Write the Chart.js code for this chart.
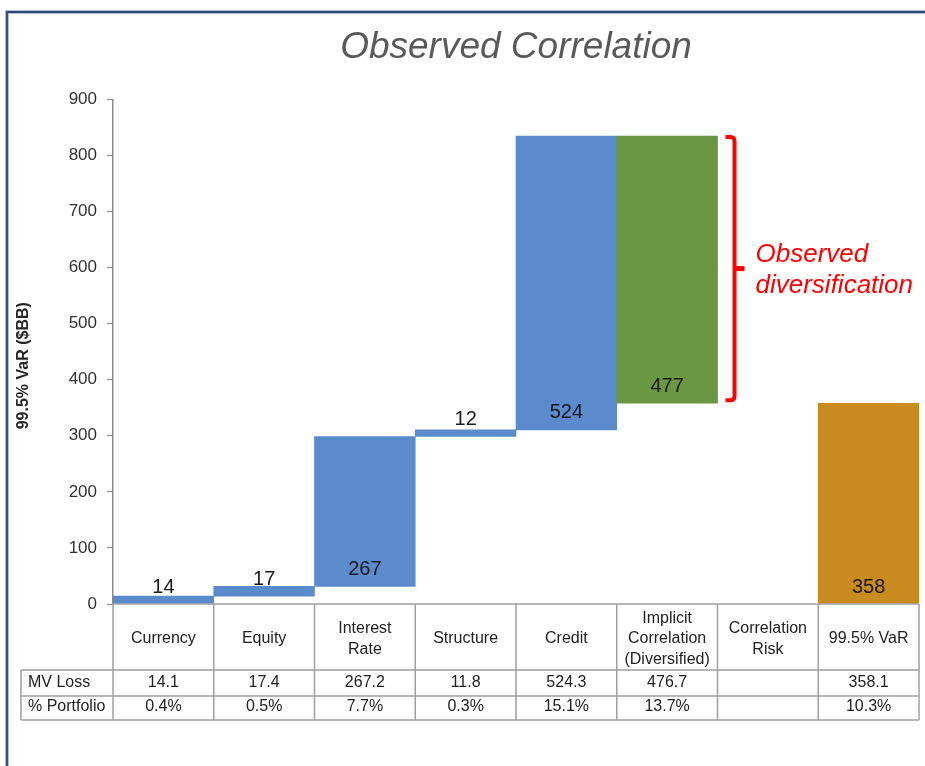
<!DOCTYPE html>
<html>
<head>
<meta charset="utf-8">
<script src="https://cdn.jsdelivr.net/npm/chart.js@4/dist/chart.umd.min.js"></script>
<style>
html,body{margin:0;padding:0;background:#fff;}
canvas{display:block;}
</style>
</head>
<body>
<canvas id="c" width="925" height="766"></canvas>
<script>
// ---- data ----
const categories = [['Currency'], ['Equity'], ['Interest', 'Rate'], ['Structure'], ['Credit'],
  ['Implicit', 'Correlation', '(Diversified)'], ['Correlation', 'Risk'], ['99.5% VaR']];
const mvLoss = [14.1, 17.4, 267.2, 11.8, 524.3, 476.7, null, 358.1];
const stepKind = ['up', 'up', 'up', 'up', 'up', 'down', 'none', 'total'];
const barLabels = ['14', '17', '267', '12', '524', '477', '', '358'];
const mvLossText = ['14.1', '17.4', '267.2', '11.8', '524.3', '476.7', '', '358.1'];
const pctPortfolio = ['0.4%', '0.5%', '7.7%', '0.3%', '15.1%', '13.7%', '', '10.3%'];
const rowHeaders = ['MV Loss', '% Portfolio'];
const yTicks = [0, 100, 200, 300, 400, 500, 600, 700, 800, 900];
const yTitle = '99.5% VaR ($BB)';
const chartTitle = 'Observed Correlation';
const noteLines = ['Observed', 'diversification'];

// ---- waterfall table built from the values ----
let running = 0;
const floating = mvLoss.map((v, i) => {
  const k = stepKind[i];
  if (k === 'up') { const s = running; running += v; return [s, running]; }
  if (k === 'down') { const s = running; running -= v; return [running, s]; }
  if (k === 'total') { return [0, v]; }
  return null;
});
const kindColor = { up: '#5b8bcc', down: '#6a9842', total: '#c98b20', none: 'rgba(0,0,0,0)' };
const barColors = stepKind.map(k => kindColor[k]);

const FONT = "'Liberation Sans', Arial, sans-serif";

const decor = {
  id: 'decor',
  afterDatasetsDraw(chart) {
    const ctx = chart.ctx;
    const xs = chart.scales.x, ys = chart.scales.y;
    const ca = chart.chartArea;
    const n = categories.length;
    const w = (ca.right - ca.left) / n;
    const edge = i => ca.left + i * w;

    // bar value labels, just above each bar's base
    ctx.save();
    ctx.font = '20px ' + FONT;
    ctx.fillStyle = '#1a1a1a';
    ctx.textAlign = 'center';
    ctx.textBaseline = 'middle';
    floating.forEach((d, i) => {
      if (!d || !barLabels[i]) return;
      const base = ys.getPixelForValue(Math.min(d[0], d[1]));
      ctx.fillText(barLabels[i], xs.getPixelForValue(i), base - 17);
    });
    ctx.restore();

    // table
    const b = ca.bottom;
    const r1 = b + 66, r2 = b + 92, r3 = b + 116;
    const tLeft = 21;
    ctx.save();
    ctx.strokeStyle = '#a0a0a0';
    ctx.lineWidth = 1.5;
    ctx.beginPath();
    for (let i = 0; i <= n; i++) {
      ctx.moveTo(edge(i), b); ctx.lineTo(edge(i), r3);
    }
    ctx.moveTo(tLeft, r1); ctx.lineTo(tLeft, r3);
    ctx.moveTo(ca.left, b); ctx.lineTo(ca.right, b);
    [r1, r2, r3].forEach(y => { ctx.moveTo(tLeft, y); ctx.lineTo(ca.right, y); });
    ctx.stroke();

    ctx.fillStyle = '#222';
    ctx.font = '16px ' + FONT;
    ctx.textBaseline = 'middle';
    ctx.textAlign = 'center';
    const hc = b + 35;
    categories.forEach((lines, i) => {
      const cx = xs.getPixelForValue(i);
      lines.forEach((t, k) => {
        ctx.fillText(t, cx, hc + (k - (lines.length - 1) / 2) * 20.5);
      });
      ctx.fillText(mvLossText[i], cx, b + 79);
      ctx.fillText(pctPortfolio[i], cx, b + 103);
    });
    ctx.textAlign = 'left';
    ctx.fillText(rowHeaders[0], tLeft + 7, b + 79);
    ctx.fillText(rowHeaders[1], tLeft + 7, b + 103);
    ctx.restore();

    // y axis title
    ctx.save();
    ctx.translate(24, (ca.top + ca.bottom) / 2 + 14);
    ctx.rotate(-Math.PI / 2);
    ctx.font = 'bold 16px ' + FONT;
    ctx.fillStyle = '#262626';
    ctx.textAlign = 'center';
    ctx.textBaseline = 'middle';
    ctx.fillText(yTitle, 0, 0);
    ctx.restore();

    // bracket for observed diversification
    const dIdx = stepKind.indexOf('down');
    const dd = floating[dIdx];
    const top = ys.getPixelForValue(dd[1]) + 1;
    const bot = ys.getPixelForValue(dd[0]) - 3;
    const bx = edge(dIdx + 1) + 17;
    const mid = (top + bot) / 2;
    ctx.save();
    ctx.strokeStyle = '#ff0000';
    ctx.lineWidth = 4;
    ctx.lineJoin = 'round';
    ctx.beginPath();
    ctx.moveTo(bx - 9, top);
    ctx.lineTo(bx - 4, top);
    ctx.quadraticCurveTo(bx, top, bx, top + 4);
    ctx.lineTo(bx, bot - 4);
    ctx.quadraticCurveTo(bx, bot, bx - 4, bot);
    ctx.lineTo(bx - 9, bot);
    ctx.stroke();
    ctx.lineWidth = 5;
    ctx.beginPath();
    ctx.moveTo(bx, mid);
    ctx.lineTo(bx + 10, mid);
    ctx.stroke();
    ctx.fillStyle = '#ff0000';
    ctx.font = 'italic 26px ' + FONT;
    ctx.textAlign = 'left';
    ctx.textBaseline = 'middle';
    ctx.fillText(noteLines[0], bx + 21, mid - 14);
    ctx.fillText(noteLines[1], bx + 21, mid + 17);
    ctx.restore();

    // slide frame
    ctx.save();
    ctx.strokeStyle = '#9aaac2';
    ctx.lineWidth = 3.5;
    ctx.beginPath();
    ctx.moveTo(7, chart.height); ctx.lineTo(7, 12); ctx.lineTo(chart.width, 12);
    ctx.stroke();
    ctx.strokeStyle = '#2c4877';
    ctx.lineWidth = 1.8;
    ctx.beginPath();
    ctx.moveTo(7, chart.height); ctx.lineTo(7, 12); ctx.lineTo(chart.width, 12);
    ctx.stroke();
    ctx.restore();
  }
};

new Chart(document.getElementById('c'), {
  type: 'bar',
  data: {
    labels: categories,
    datasets: [{
      data: floating,
      backgroundColor: barColors,
      borderWidth: 0,
      barPercentage: 1,
      categoryPercentage: 1
    }]
  },
  options: {
    responsive: false,
    animation: false,
    layout: { padding: { left: 0, right: 6, top: 0, bottom: 162 } },
    plugins: {
      legend: { display: false },
      tooltip: { enabled: false },
      title: {
        display: true,
        text: chartTitle,
        fullSize: false,
        color: '#595959',
        font: { family: FONT, size: 37, style: 'italic', weight: 'normal', lineHeight: 1.2 },
        padding: { top: 26, bottom: 29 }
      }
    },
    scales: {
      x: { display: false },
      y: {
        min: 0, max: 900,
        afterFit(s) { s.width = 113; },
        afterBuildTicks(s) { s.ticks = yTicks.map(v => ({ value: v })); },
        grid: { drawOnChartArea: false, drawTicks: true, tickLength: 6, color: '#8a8a8a' },
        border: { color: '#8a8a8a', width: 1.5 },
        ticks: { padding: 10, color: '#333', font: { family: FONT, size: 17 } }
      }
    }
  },
  plugins: [decor]
});
</script>
</body>
</html>
